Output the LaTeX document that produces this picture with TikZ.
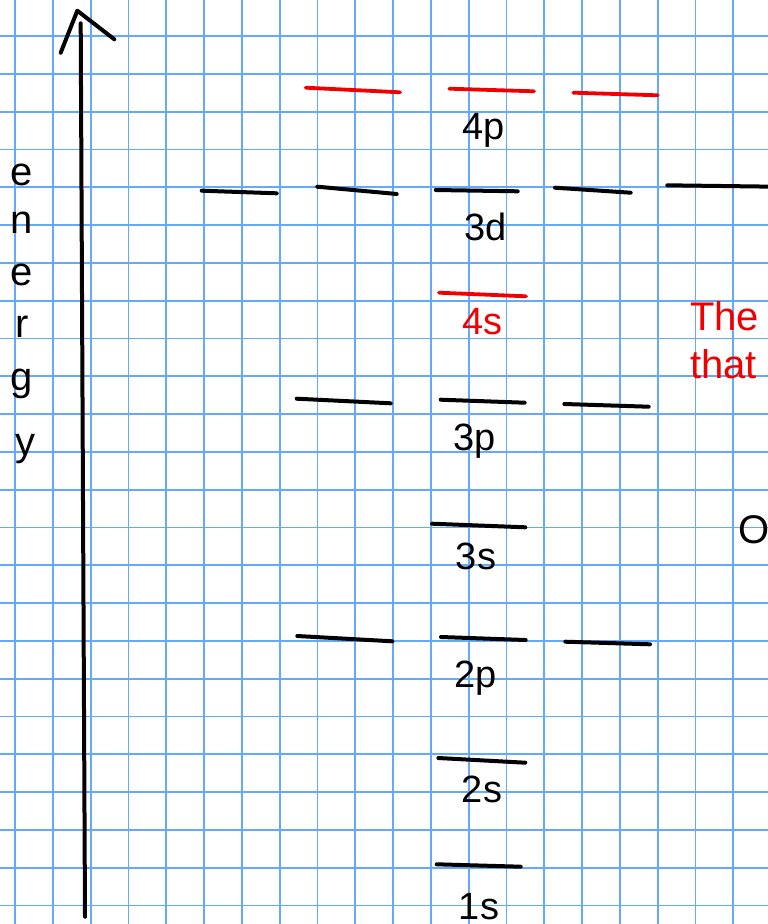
\documentclass[tikz,border=0pt]{standalone}
\usepackage{fontspec}
\setmainfont{Liberation Sans}
\definecolor{gridblue}{RGB}{100,170,250}
\definecolor{lvred}{RGB}{240,0,0}
\begin{document}
\begin{tikzpicture}[x=1pt,y=-1pt,
  gridline/.style={draw=gridblue,line width=1.8pt},
  level/.style={draw=black,line width=4pt,line cap=round},
  redlevel/.style={draw=lvred,line width=3.8pt,line cap=round},
  axisline/.style={draw=black,line width=4pt,line cap=round,line join=round},
  lbl/.style={inner sep=0pt,anchor=base,font=\fontsize{38}{44}\selectfont},
  note/.style={inner sep=0pt,anchor=base west,font=\fontsize{40}{47}\selectfont},
  hand/.style={inner sep=0pt,anchor=base,font=\fontsize{40}{46}\selectfont}]
\useasboundingbox (0,0) rectangle (768,924);
\fill[white] (0,0) rectangle (768,924);
% grid
\foreach \k in {0,...,19} \draw[gridline] ({15+37.8*\k},0) -- ({15+37.8*\k},924);
\foreach \k in {0,...,24} \draw[gridline] (0,{-1.8+37.8*\k}) -- (768,{-1.8+37.8*\k});
% axis
\coordinate (axbot) at (85,916.7);
\coordinate (axtop) at (80.7,23.3);
\coordinate (hl) at (60.7,52.7);
\coordinate (hp) at (77.3,10.7);
\coordinate (hr) at (114.3,39.3);
\draw[axisline] (axbot) -- (axtop);
\draw[axisline] (hl) -- (hp) -- (hr);
% energy letters
\node[hand] (l1) at (22,185) {e};
\node[hand] (l2) at (22,233) {n};
\node[hand] (l3) at (22,285) {e};
\node[hand] (l4) at (22,337) {r};
\node[hand] (l5) at (22,390) {g};
\node[hand] (l6) at (25,455) {y};
% 4p
\draw[redlevel] (305.7,87.7) -- (400,92.3);
\draw[redlevel] (449.3,88.7) -- (534,91.3);
\draw[redlevel] (573.3,92.7) -- (657.7,95.3);
\node[lbl] (p4) at (483.5,139.3) {4p};
% 3d
\draw[level] (201.7,190.7) -- (276.7,193.3);
\draw[level] (317.3,186.7) -- (396.7,194);
\draw[level] (435.7,190) -- (517.7,191.3);
\draw[level] (555,187.7) -- (630.7,192.7);
\draw[level] (667.3,185.3) -- (775,186.7);
\node[lbl] (d3) at (486,240) {3d};
% 4s
\draw[redlevel] (439,292.7) -- (526,296.3);
\node[lbl,text=lvred] (s4) at (482.5,334.3) {4s};
% 3p
\draw[level] (296.7,398.7) -- (390.7,403.3);
\draw[level] (440.7,399.7) -- (524.7,402.7);
\draw[level] (564.3,404) -- (648.7,406.7);
\node[lbl] (p3) at (475,450.7) {3p};
% 3s
\draw[level] (432,523.7) -- (525.3,527.3);
\node[lbl] (s3) at (476,569.3) {3s};
% 2p
\draw[level] (297.3,636) -- (392.3,641.3);
\draw[level] (441,637) -- (525.7,640);
\draw[level] (565.3,641.7) -- (650,644.3);
\node[lbl] (p2) at (476,687.7) {2p};
% 2s
\draw[level] (438.3,758) -- (525.3,762.7);
\node[lbl] (s2) at (482,802.7) {2s};
% 1s
\draw[level] (436.7,864.3) -- (520.7,866.7);
\node[lbl] (s1) at (479,919.3) {1s};
% right notes (cut off)
\node[note,text=lvred] (n1) at (690,330.7) {The};
\node[note,text=lvred] (n2) at (690,378) {that};
\node[note] (n3) at (738.3,543) {O};
\end{tikzpicture}
\end{document}
